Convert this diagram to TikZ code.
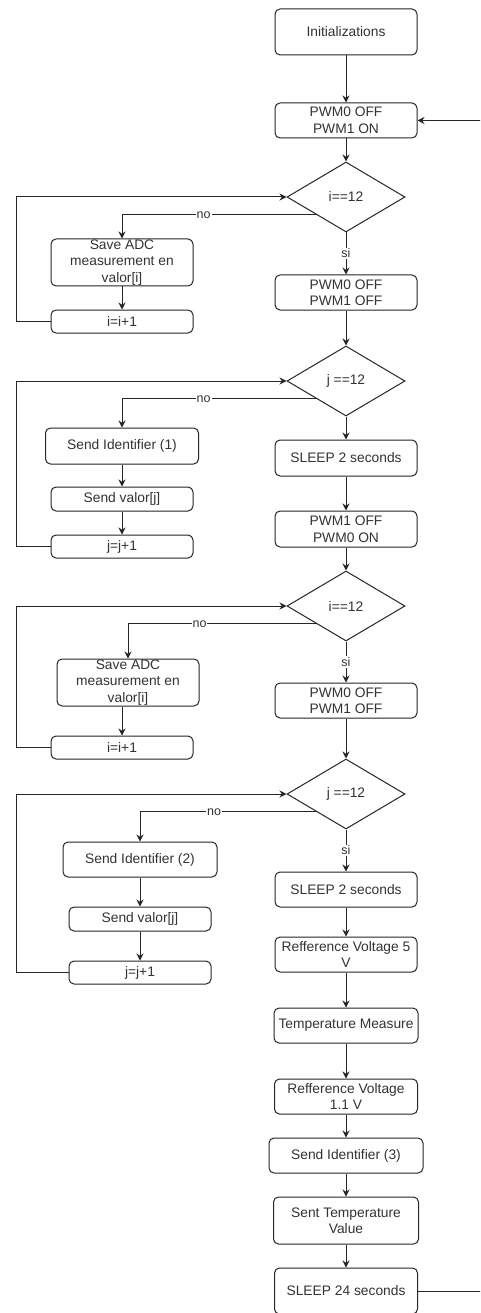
\documentclass[tikz,border=0pt]{standalone}
\usepackage{fontspec}
\setmainfont{Liberation Sans}
\usetikzlibrary{shapes.geometric,arrows.meta,calc}
\definecolor{lc}{HTML}{262626}
\definecolor{tc}{HTML}{333333}
\begin{document}
\begin{tikzpicture}[x=1pt,y=1pt,
  box/.style={draw=lc, rounded corners=5pt, line width=1pt, align=center, text=tc,
    font=\fontsize{13.8}{16.5}\selectfont, inner sep=0pt, minimum width=142pt, minimum height=35pt},
  dec/.style={draw=lc, diamond, aspect=1.7, minimum width=118pt, minimum height=70pt,
    inner sep=0pt, line width=1pt, text=tc, font=\fontsize{13.8}{16.5}\selectfont},
  arr/.style={draw=lc, line width=1pt, -{Stealth[length=7pt,width=7pt]}},
  ln/.style={draw=lc, line width=1pt},
  lbl/.style={fill=white, inner sep=1pt, text=tc, font=\fontsize{12.5}{14}\selectfont}
]
\useasboundingbox (0,0) rectangle (480,-1313);
\clip (0,0) rectangle (480,-1313);
\fill[white] (0,0) rectangle (480,-1313);

\coordinate (L) at (16,0);
\coordinate (R) at (484,0);

% main column
\node[box, minimum height=46pt] (init) at (346,-32) {Initializations};
\node[box] (pwm1) at (346,-120.5) {PWM0 OFF\\PWM1 ON};
\node[dec] (d1) at (346,-197) {i==12};
\node[box] (pwm2) at (346,-292.5) {PWM0 OFF\\PWM1 OFF};
\node[dec] (d2) at (346,-381) {j ==12};
\node[box, minimum height=36pt] (sleep1) at (346,-458) {SLEEP 2 seconds};
\node[box, minimum height=36pt] (pwm3) at (346,-529) {PWM1 OFF\\PWM0 ON};
\node[dec] (d3) at (346,-606) {i==12};
\node[box] (pwm4) at (346,-700.5) {PWM0 OFF\\PWM1 OFF};
\node[dec] (d4) at (346,-794) {j ==12};
\node[box] (sleep2) at (346,-889.5) {SLEEP 2 seconds};
\node[box] (ref5) at (346,-954.5) {Refference Voltage 5\\V};
\node[box, minimum width=144pt] (temp) at (346,-1025.5) {Temperature Measure};
\node[box, minimum width=143pt] (ref11) at (346,-1096.5) {Refference Voltage\\1.1 V};
\node[box, minimum width=154pt] (id3) at (346,-1155.5) {Send Identifier (3)};
\node[box, minimum width=145pt, minimum height=47pt] (sent) at (346,-1220.5) {Sent Temperature\\Value};
\node[box, minimum width=143pt, minimum height=46pt] (sleep24) at (346,-1291) {SLEEP 24 seconds};

% left column, loop 1
\node[box, minimum height=47pt] (save1) at (122,-262.5) {Save ADC\\measurement en\\valor[i]};
\node[box, minimum height=23pt] (inc1) at (122,-321.5) {i=i+1};
% loop 2
\node[box, minimum width=153pt, minimum height=36pt] (id1) at (122,-446) {Send Identifier (1)};
\node[box, minimum height=24pt] (val1) at (122,-499) {Send valor[j]};
\node[box, minimum height=23pt] (inc2) at (122,-546.5) {j=j+1};
% loop 3
\node[box, minimum height=47pt] (save2) at (128,-682.5) {Save ADC\\measurement en\\valor[i]};
\node[box, minimum height=23pt] (inc3) at (122,-747.5) {i=i+1};
% loop 4
\node[box, minimum width=154pt] (id2) at (140,-859.5) {Send Identifier (2)};
\node[box, minimum height=24pt] (val2) at (140,-919) {Send valor[j]};
\node[box, minimum height=23pt] (inc4) at (140,-972.5) {j=j+1};

% main flow
\draw[arr] (init) -- (pwm1);
\draw[arr] (pwm1) -- (d1);
\draw[arr] (d1) -- node[lbl]{si} (pwm2);
\draw[arr] (pwm2) -- (d2);
\draw[arr] (d2) -- (sleep1);
\draw[arr] (sleep1) -- (pwm3);
\draw[arr] (pwm3) -- (d3);
\draw[arr] (d3) -- node[lbl]{si} (pwm4);
\draw[arr] (pwm4) -- (d4);
\draw[arr] (d4) -- node[lbl]{si} (sleep2);
\draw[arr] (sleep2) -- (ref5);
\draw[arr] (ref5) -- (temp);
\draw[arr] (temp) -- (ref11);
\draw[arr] (ref11) -- (id3);
\draw[arr] (id3) -- (sent);
\draw[arr] (sent) -- (sleep24);
\draw[arr] (sleep24.east) -- (sleep24.east -| R) |- (pwm1.east);

% loop 1
\draw[arr] (d1.south west) -| node[lbl, pos=0.29]{no} (save1.north);
\draw[arr] (save1) -- (inc1);
\draw[arr] (inc1.west) -- (inc1.west -| L) |- (d1.west);
% loop 2
\draw[arr] (d2.south west) -| node[lbl, pos=0.29]{no} (id1.north);
\draw[arr] (id1.south -| val1.north) -- (val1.north);
\draw[arr] (val1) -- (inc2);
\draw[arr] (inc2.west) -- (inc2.west -| L) |- (d2.west);
% loop 3
\draw[arr] (d3.south west) -| node[lbl, pos=0.31]{no} (save2.north);
\draw[arr] (save2.south -| inc3.north) -- (inc3.north);
\draw[arr] (inc3.west) -- (inc3.west -| L) |- (d3.west);
% loop 4
\draw[arr] (d4.south west) -| node[lbl, pos=0.29]{no} (id2.north);
\draw[arr] (id2) -- (val2);
\draw[arr] (val2) -- (inc4);
\draw[arr] (inc4.west) -- (inc4.west -| L) |- (d4.west);
\end{tikzpicture}
\end{document}
